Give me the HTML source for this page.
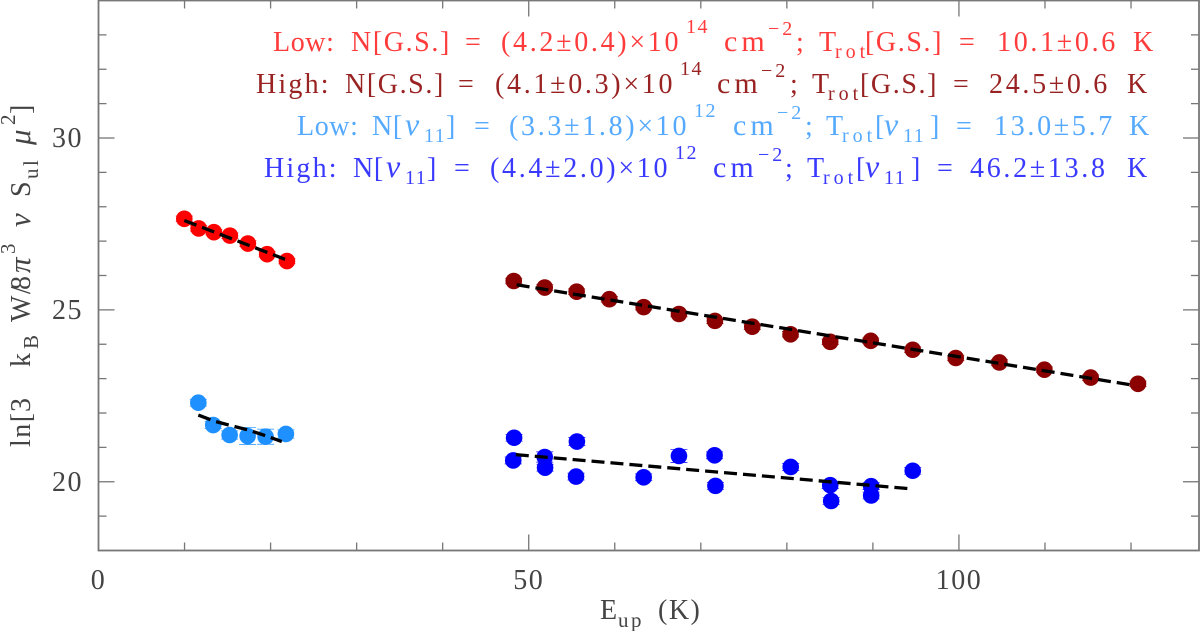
<!DOCTYPE html>
<html lang="en">
<head>
<meta charset="utf-8">
<title>Rotational diagram</title>
<style>
html,body{margin:0;padding:0;background:#fff;width:1200px;height:631px;overflow:hidden}
svg{display:block}
text{font-family:"Liberation Serif",serif}
.ann{font-size:28px;letter-spacing:.6px}
.sm{font-size:20px;letter-spacing:1.5px}
.num{letter-spacing:2.7px}
.gs{letter-spacing:1.6px}
.cm{font-size:30px;letter-spacing:4px}
.exp{font-size:20px;letter-spacing:3px}
.rot{font-size:20px;letter-spacing:4px}
.nu{font-size:32px;font-style:italic}
.hi{letter-spacing:2.2px}
.ax{font-size:28px;fill:#444;letter-spacing:1.5px}
.axsm{font-size:21px;fill:#444;letter-spacing:2.5px}
.it{font-style:italic;font-size:31px}
</style>
</head>
<body>
<svg id="chart" xmlns="http://www.w3.org/2000/svg" width="1200" height="631" viewBox="0 0 1200 631">
<g id="frame"></g>
<g id="series"></g>

<g>
<text class="ann" fill="#ff3b3b"><tspan x="273" y="51">Low:</tspan><tspan class="gs" x="351" y="51">N[G.S.]</tspan><tspan x="465" y="51">=</tspan><tspan class="num" x="501" y="51">(4.2±0.4)×10</tspan><tspan class="sm" x="686" y="33">14</tspan><tspan class="cm" x="724" y="51">cm</tspan><tspan class="exp" x="768" y="35">−2</tspan><tspan x="796" y="51">;</tspan><tspan x="819" y="51">T</tspan><tspan class="rot" x="835" y="58">rot</tspan><tspan class="gs" x="865" y="51">[G.S.]</tspan><tspan x="959" y="51">=</tspan><tspan class="num" x="997" y="51">10.1±0.6</tspan><tspan x="1133" y="51">K</tspan></text>
<text class="ann" fill="#992222"><tspan class="hi" x="256" y="93">High:</tspan><tspan class="gs" x="345" y="93">N[G.S.]</tspan><tspan x="458" y="93">=</tspan><tspan class="num" x="495" y="93">(4.1±0.3)×10</tspan><tspan class="sm" x="680" y="75">14</tspan><tspan class="cm" x="717" y="93">cm</tspan><tspan class="exp" x="761" y="77">−2</tspan><tspan x="790" y="93">;</tspan><tspan x="812" y="93">T</tspan><tspan class="rot" x="828" y="100">rot</tspan><tspan class="gs" x="860" y="93">[G.S.]</tspan><tspan x="953" y="93">=</tspan><tspan class="num" x="989" y="93">24.5±0.6</tspan><tspan x="1127" y="93">K</tspan></text>
<text class="ann" fill="#55aaff"><tspan x="297" y="135">Low:</tspan><tspan x="372" y="135">N[</tspan><tspan class="nu" x="405" y="135">ν</tspan><tspan class="sm" x="424" y="142">11</tspan><tspan x="446" y="135">]</tspan><tspan x="474" y="135">=</tspan><tspan class="num" x="509" y="135">(3.3±1.8)×10</tspan><tspan class="sm" x="694" y="117">12</tspan><tspan class="cm" x="733" y="135">cm</tspan><tspan class="exp" x="777" y="119">−2</tspan><tspan x="805" y="135">;</tspan><tspan x="826" y="135">T</tspan><tspan class="rot" x="842" y="142">rot</tspan><tspan x="875" y="135">[</tspan><tspan class="nu" x="884" y="135">ν</tspan><tspan class="sm" x="903" y="142">11</tspan><tspan x="930" y="135">]</tspan><tspan x="956" y="135">=</tspan><tspan class="num" x="994" y="135">13.0±5.7</tspan><tspan x="1129" y="135">K</tspan></text>
<text class="ann" fill="#3a3aff"><tspan class="hi" x="264" y="177">High:</tspan><tspan x="353" y="177">N[</tspan><tspan class="nu" x="386" y="177">ν</tspan><tspan class="sm" x="405" y="184">11</tspan><tspan x="427" y="177">]</tspan><tspan x="454" y="177">=</tspan><tspan class="num" x="490" y="177">(4.4±2.0)×10</tspan><tspan class="sm" x="675" y="159">12</tspan><tspan class="cm" x="713" y="177">cm</tspan><tspan class="exp" x="758" y="161">−2</tspan><tspan x="785" y="177">;</tspan><tspan x="807" y="177">T</tspan><tspan class="rot" x="823" y="184">rot</tspan><tspan x="856" y="177">[</tspan><tspan class="nu" x="865" y="177">ν</tspan><tspan class="sm" x="884" y="184">11</tspan><tspan x="911" y="177">]</tspan><tspan x="937" y="177">=</tspan><tspan class="num" x="970" y="177">46.2±13.8</tspan><tspan x="1127" y="177">K</tspan></text>
</g>

<text class="ax"><tspan x="600" y="619">E</tspan><tspan class="axsm" x="618" y="627">up</tspan><tspan x="658" y="619">(K)</tspan></text>
<text class="ax" transform="translate(30,447) rotate(-90)"><tspan x="0" y="0">ln[</tspan><tspan x="35" y="0">3</tspan><tspan x="80" y="0">k</tspan><tspan class="axsm" x="98" y="8">B</tspan><tspan x="125" y="0">W/</tspan><tspan x="157" y="0">8</tspan><tspan class="it" x="174" y="0">π</tspan><tspan class="axsm" x="193" y="-15">3</tspan><tspan class="it" x="220" y="0">ν</tspan><tspan x="250" y="0">S</tspan><tspan class="axsm" x="268" y="8">ul</tspan><tspan class="it" x="302" y="0">μ</tspan><tspan class="axsm" x="322" y="-15">2</tspan><tspan x="333" y="0">]</tspan></text>
</svg>

<script>
// Axis ranges and tick labels
const xTickLabels = [0, 50, 100];
const yTickLabels = [20, 25, 30];
const xMinorStep = 10;
const yMinorStep = 1;
const xRange = [0, 127.9];
const yRange = [18, 34];

// Low-energy ground-state series (red)
const lowGsX = [9.97, 11.64, 13.41, 15.27, 17.36, 19.6, 21.9];
const lowGsY = [27.65, 27.37, 27.26, 27.16, 26.93, 26.62, 26.42];
const lowGsErr = [0.08, 0.08, 0.08, 0.08, 0.08, 0.08, 0.08];
const lowGsFitX = [9.97, 21.7];
const lowGsFitY = [27.6, 26.47];

// High-energy ground-state series (dark red)
const highGsX = [48.26, 51.86, 55.57, 59.37, 63.36, 67.46, 71.64, 75.98, 80.43, 85.04, 89.75, 94.63, 99.63, 104.7, 109.93, 115.31, 120.81];
const highGsY = [25.84, 25.65, 25.53, 25.31, 25.08, 24.88, 24.68, 24.51, 24.29, 24.07, 24.1, 23.84, 23.6, 23.47, 23.26, 23.03, 22.85];
const highGsErr = [0.08, 0.08, 0.08, 0.08, 0.08, 0.08, 0.08, 0.08, 0.08, 0.08, 0.08, 0.08, 0.08, 0.08, 0.08, 0.08, 0.08];
const highGsFitX = [48.6, 120.2];
const highGsFitY = [25.73, 22.81];

// Low-energy nu11 series (light blue)
const lowNuX = [11.6, 13.33, 15.24, 17.33, 19.42, 21.78];
const lowNuY = [22.3, 21.65, 21.36, 21.33, 21.31, 21.39];
const lowNuErr = [0.1, 0.1, 0.12, 0.25, 0.22, 0.12];
const lowNuFitX = [11.6, 13.5, 15.6, 17.5, 19.4, 21.3];
const lowNuFitY = [21.94, 21.76, 21.62, 21.5, 21.34, 21.17];

// High-energy nu11 series (blue)
const highNuX = [48.3, 48.2, 51.86, 51.9, 55.6, 55.5, 63.36, 67.46, 71.6, 71.7, 80.45, 85.04, 85.15, 89.8, 89.8, 94.63];
const highNuY = [21.28, 20.62, 20.72, 20.41, 21.17, 20.15, 20.13, 20.75, 20.77, 19.88, 20.43, 19.9, 19.44, 19.87, 19.6, 20.32];
const highNuErr = [0.1, 0.1, 0.15, 0.1, 0.12, 0.1, 0.1, 0.19, 0.1, 0.1, 0.1, 0.1, 0.1, 0.1, 0.1, 0.1];
const highNuFitX = [48.5, 94.2];
const highNuFitY = [20.79, 19.8];

const NS = 'http://www.w3.org/2000/svg';
const plot = { left: 98.5, right: 1199, top: 0.5, bottom: 550.5 };
const sx = v => plot.left + (v - xRange[0]) / (xRange[1] - xRange[0]) * (plot.right - plot.left);
const sy = v => plot.bottom - (v - yRange[0]) / (yRange[1] - yRange[0]) * (plot.bottom - plot.top);

function make(tag, parent, attrs) {
  const el = document.createElementNS(NS, tag);
  for (const k in attrs) el.setAttribute(k, attrs[k]);
  parent.appendChild(el);
  return el;
}

const frame = document.getElementById('frame');
const seriesRoot = document.getElementById('series');

const border = make('rect', frame, { x: plot.left, y: plot.top, width: plot.right - plot.left, height: plot.bottom - plot.top, fill: 'none', stroke: '#777', 'stroke-width': 1.8 });



for (let v = xRange[0] + xMinorStep; v < xRange[1]; v += xMinorStep) {
  const len = xTickLabels.includes(v) ? 16 : 8;
  const bottomTick = make('line', frame, { x1: sx(v), x2: sx(v), y1: plot.bottom, y2: plot.bottom - len, stroke: '#777', 'stroke-width': 1.3 });
  
  
  const topTick = make('line', frame, { x1: sx(v), x2: sx(v), y1: plot.top, y2: plot.top + len, stroke: '#777', 'stroke-width': 1.3 });
  
  
}
for (let v = yRange[0] + yMinorStep; v < yRange[1]; v += yMinorStep) {
  const len = yTickLabels.includes(v) ? 16 : 8;
  const leftTick = make('line', frame, { x1: plot.left, x2: plot.left + len, y1: sy(v), y2: sy(v), stroke: '#777', 'stroke-width': 1.3 });
  
  
  const rightTick = make('line', frame, { x1: plot.right, x2: plot.right - len, y1: sy(v), y2: sy(v), stroke: '#777', 'stroke-width': 1.3 });
  
  
}
xTickLabels.forEach(v => {
  const t = make('text', frame, { x: sx(v), y: 589, 'text-anchor': 'middle', class: 'ax' });
  t.textContent = v;
  
  
});
yTickLabels.forEach(v => {
  const t = make('text', frame, { x: 83, y: sy(v) + 9, 'text-anchor': 'end', class: 'ax' });
  t.textContent = v;
  
  
});

function drawSeries(name, color, xs, ys, errs, fitX, fitY) {
  const g = make('g', seriesRoot, {});
  
  
  xs.forEach((x, i) => {
    const cx = sx(x);
    const hi = sy(ys[i] + errs[i]);
    const lo = sy(ys[i] - errs[i]);
    const err = make('path', g, { d: `M${cx - 8.5} ${hi}H${cx + 8.5}M${cx} ${hi}V${lo}M${cx - 8.5} ${lo}H${cx + 8.5}`, fill: 'none', stroke: color, 'stroke-width': 0.7 });
    
    
  });
  xs.forEach((x, i) => {
    const c = make('circle', g, { cx: sx(x), cy: sy(ys[i]), r: 8.3, fill: color });
    
    
  });
  const pts = fitX.map((x, i) => sx(x) + ',' + sy(fitY[i])).join(' ');
  const fit = make('polyline', g, { points: pts, fill: 'none', stroke: '#000', 'stroke-width': 3.3, 'stroke-dasharray': '13 6' });
  
  
}

drawSeries('series-low-ground-state', '#ff0000', lowGsX, lowGsY, lowGsErr, lowGsFitX, lowGsFitY);
drawSeries('series-high-ground-state', '#8b0000', highGsX, highGsY, highGsErr, highGsFitX, highGsFitY);
drawSeries('series-low-nu11', '#1e90ff', lowNuX, lowNuY, lowNuErr, lowNuFitX, lowNuFitY);
drawSeries('series-high-nu11', '#0000ff', highNuX, highNuY, highNuErr, highNuFitX, highNuFitY);
</script>
</body>
</html>
